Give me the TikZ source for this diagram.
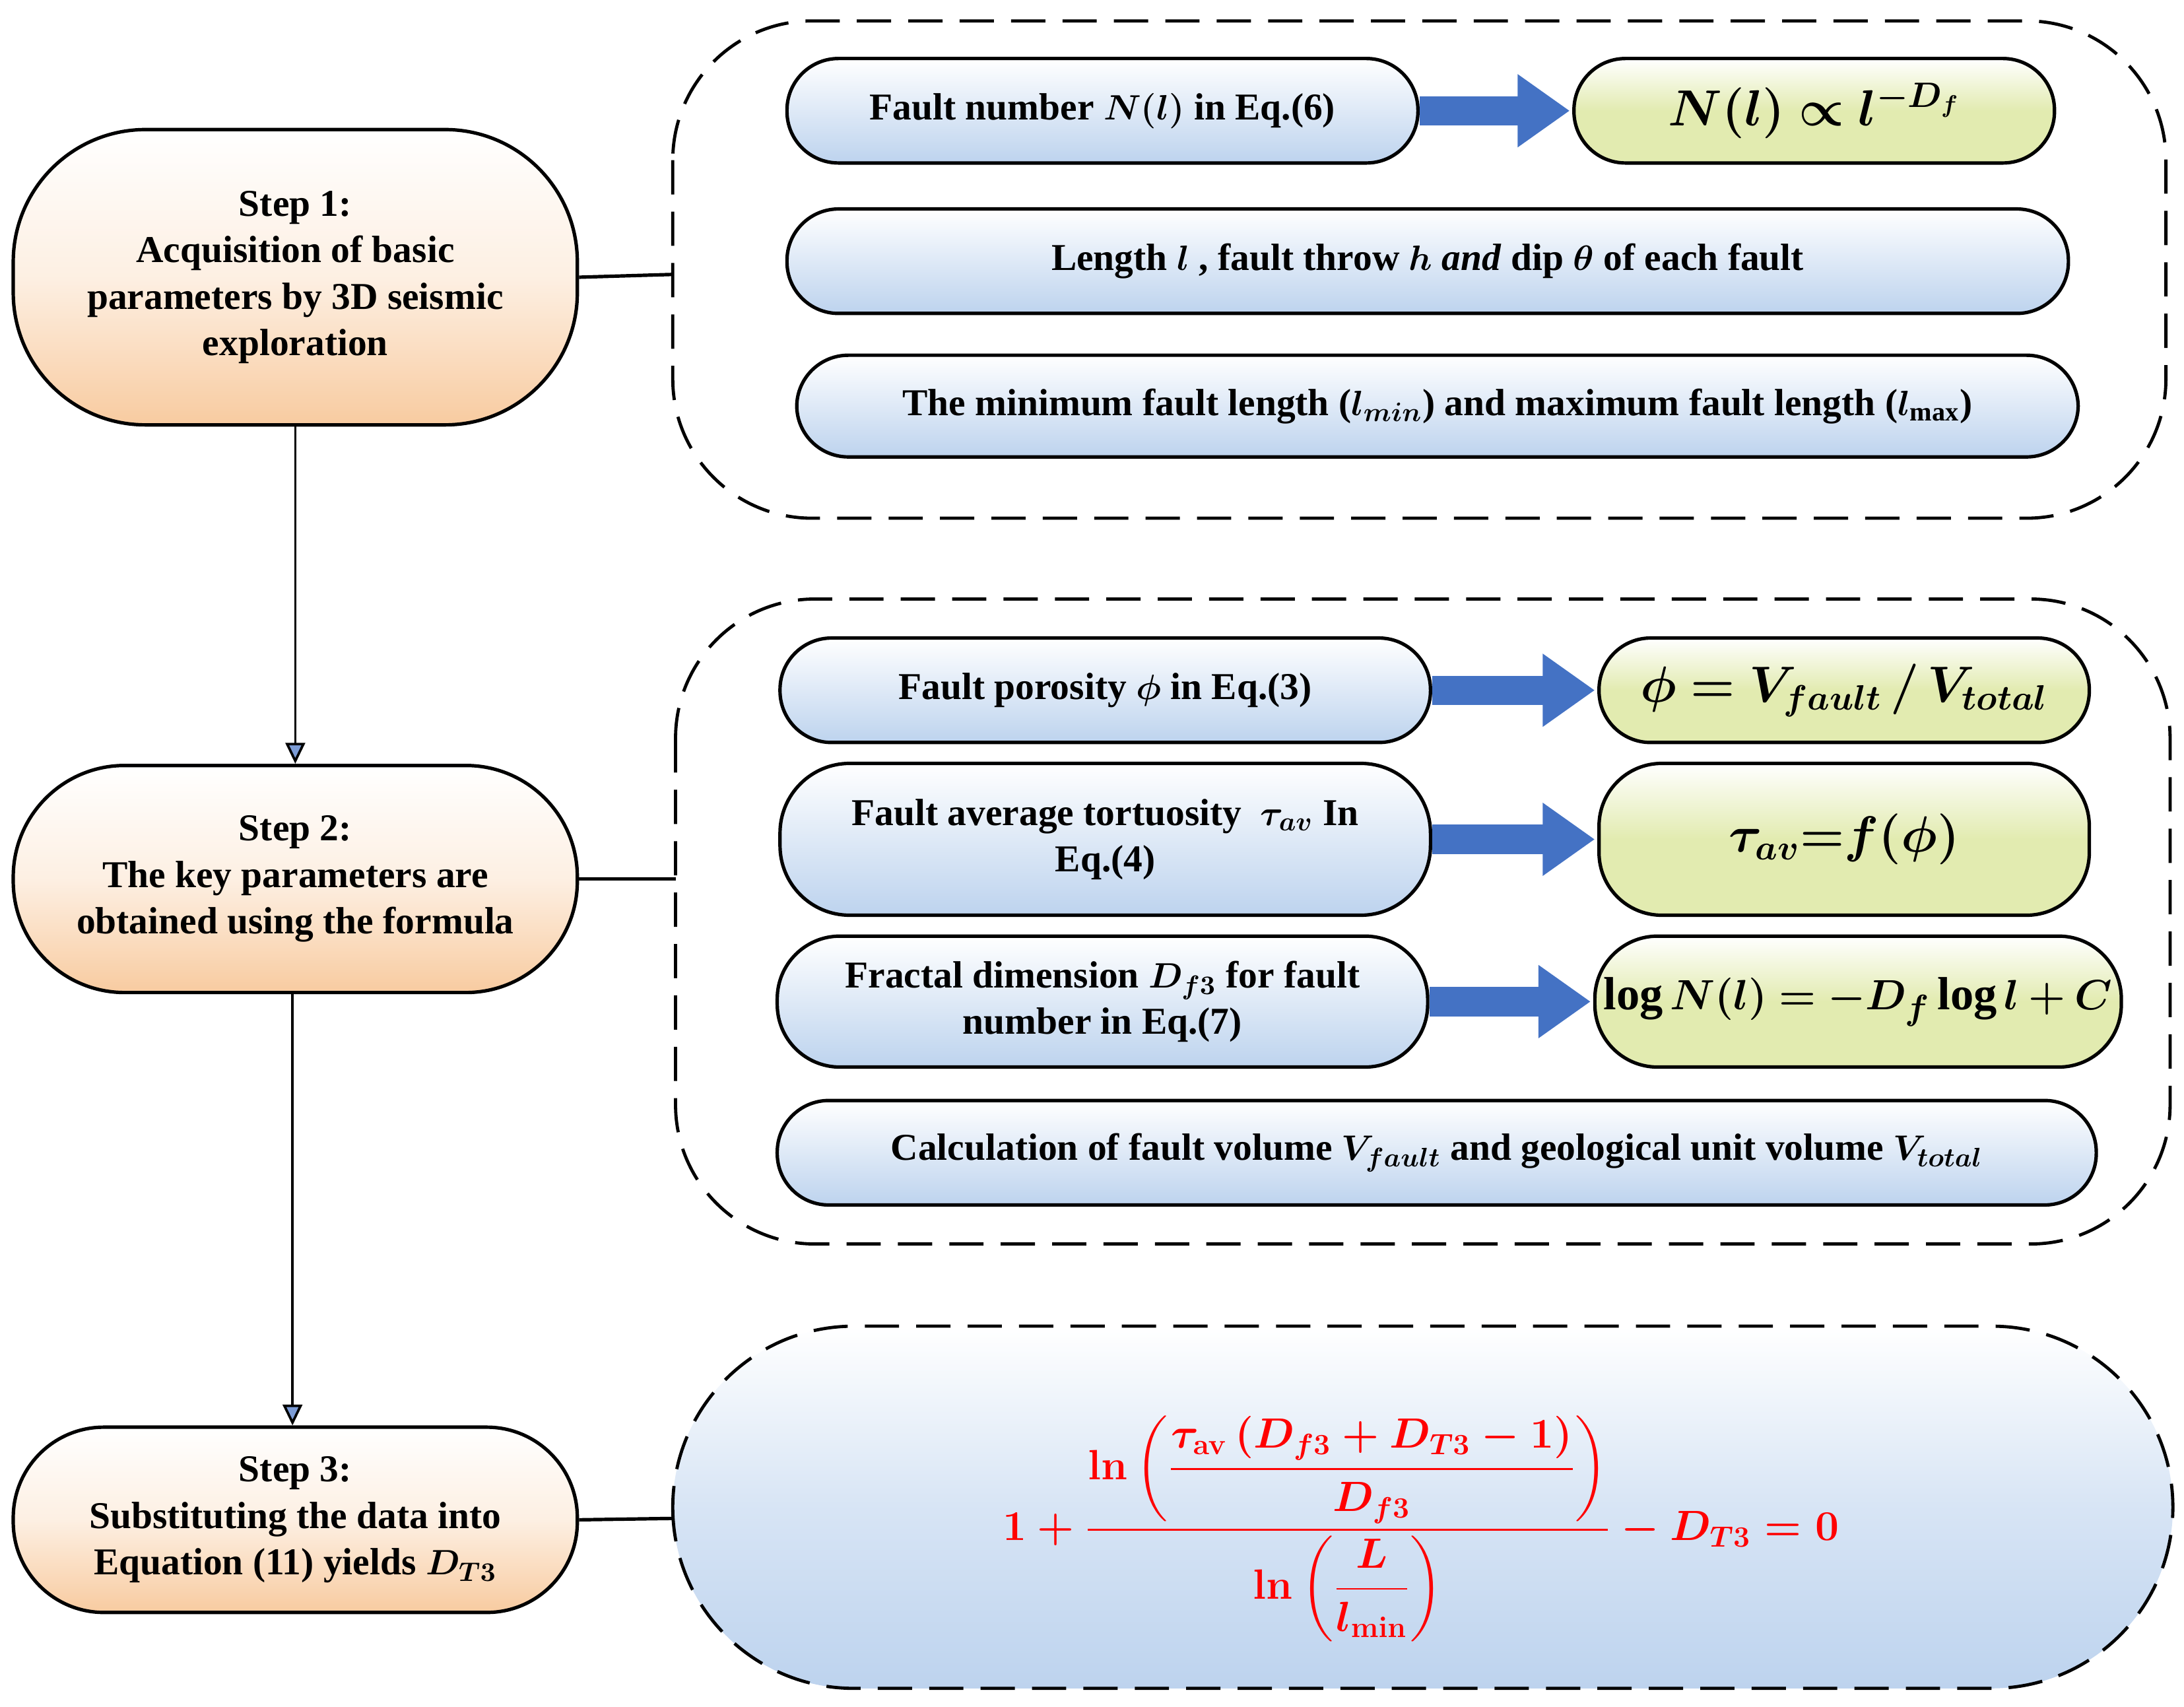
\documentclass[tikz,border=0pt]{standalone}
\usepackage{fontspec}
\setmainfont{Liberation Serif}
\usepackage{amsmath,amssymb,bm}
\usetikzlibrary{arrows.meta}
\definecolor{stepO}{HTML}{F8CBA0}
\definecolor{pillB}{HTML}{BDD3EE}
\definecolor{pillG}{HTML}{E2EBB0}
\definecolor{arrB}{HTML}{4472C4}
\newsavebox{\myformbox}
\begin{document}
\sbox{\myformbox}{\fontsize{18}{22}\selectfont\color{red}\boldmath$\displaystyle 1+\frac{\mathbf{ln}\left(\dfrac{\tau_{\mathbf{av}}\left(D_{f3}+D_{T3}-1\right)}{D_{f3}}\right)}{\mathbf{ln}\left(\dfrac{L}{l_{\mathbf{min}}}\right)}-D_{T3}=0$}%
\begin{tikzpicture}[
  every node/.style={font=\fontsize{15.5}{19}\selectfont\bfseries, align=center, inner sep=2pt},
  stepnode/.style={draw=black, line width=1.4pt, top color=white, bottom color=stepO, middle color=stepO!30, minimum width=8.1cm},
  pill/.style={draw=black, line width=1.4pt, top color=white, bottom color=pillB, rounded corners=0.74cm, minimum height=1.5cm},
  gpill/.style={draw=black, line width=1.4pt, top color=white, bottom color=pillG, middle color=pillG, rounded corners=0.74cm, minimum height=1.5cm},
  dbox/.style={draw=black, line width=1.3pt, dash pattern=on 14pt off 7pt},
  fat/.style={draw=arrB, line width=0.42cm, -{Triangle[length=0.75cm,width=1.0cm]}, shorten >=1pt},
  conn/.style={line width=1.4pt},
  down/.style={line width=1pt, -{Triangle[length=0.3cm,width=0.28cm,fill=arrB!70]}}
]
\useasboundingbox (0,0) rectangle (31.36,-24.5);
% step nodes
\node[stepnode, minimum height=4.24cm, rounded corners=1.9cm] (s1) at (4.24,-3.98) {Step 1:\\Acquisition of basic\\parameters by 3D seismic\\exploration};
\node[stepnode, minimum height=3.26cm, rounded corners=1.6cm] (s2) at (4.24,-12.62) {Step 2:\\The key parameters are\\obtained using the formula};
\node[stepnode, minimum height=2.66cm, rounded corners=1.3cm] (s3) at (4.24,-21.82) {Step 3:\\Substituting the data into\\Equation (11) yields $\bm{D_{T3}}$};
\draw[down] (s1.south) -- (s2.north);
\draw[down] ([xshift=-0.04cm]s2.south) -- ([xshift=-0.04cm]s3.north);
% dashed boxes
\draw[dbox, rounded corners=2cm] (9.66,-0.3) rectangle (31.1,-7.44);
\coordinate (b1) at (9.66,-3.94);
\draw[dbox, rounded corners=2cm] (9.7,-8.6) rectangle (31.16,-17.86);
\coordinate (b2) at (9.7,-12.62);
\draw[dbox, rounded corners=2.6cm, top color=white, bottom color=pillB, middle color=pillB!60] (9.66,-19.04) rectangle (31.2,-24.24);
\coordinate (b3) at (9.66,-21.8);
\draw[conn] (s1.east) -- (b1);
\draw[conn] (s2.east) -- (b2);
\draw[conn] (s3.east) -- (b3);
% box 1
\node[pill, minimum width=9.06cm] (n1) at (15.83,-1.59) {Fault number $\bm{N(l)}$ in Eq.(6)};
\node[gpill, minimum width=6.9cm] (g1) at (26.05,-1.59) {\fontsize{20}{22}\selectfont$\boldsymbol{N(l)\propto l^{-D_f}}$};
\draw[fat] (n1.east) -- (g1.west);
\node[pill, minimum width=18.4cm] (n2) at (20.5,-3.75) {Length $\bm{l}$ , fault throw $\bm{h}$ \textit{and} dip $\bm{\theta}$ of each fault};
\node[pill, minimum width=18.4cm, minimum height=1.46cm] (n3) at (20.64,-5.83) {The minimum fault length ($\bm{l_{min}}$) and maximum fault length ($\bm{l}_{\mathbf{max}}$)};
% box 2
\node[pill, minimum width=9.34cm] (n4) at (15.87,-9.91) {Fault porosity $\bm{\phi}$ in Eq.(3)};
\node[gpill, minimum width=7.04cm] (g4) at (26.48,-9.91) {\fontsize{20}{22}\selectfont$\boldsymbol{\phi = V_{fault}\,/\,V_{total}}$};
\draw[fat] (n4.east) -- (g4.west);
\node[pill, minimum width=9.34cm, minimum height=2.18cm, rounded corners=1cm] (n5) at (15.87,-12.05) {Fault average tortuosity\ \ $\bm{\tau_{av}}$ In\\Eq.(4)};
\node[gpill, minimum width=7.04cm, minimum height=2.18cm, rounded corners=0.9cm] (g5) at (26.48,-12.05) {\fontsize{20}{22}\selectfont$\boldsymbol{\tau_{av}{=}f(\phi)}$};
\draw[fat] (n5.east) -- (g5.west);
\node[pill, minimum width=9.34cm, minimum height=1.88cm, rounded corners=0.9cm] (n6) at (15.83,-14.38) {Fractal dimension $\bm{D_{f3}}$ for fault\\number in Eq.(7)};
\node[gpill, minimum width=7.56cm, minimum height=1.88cm, rounded corners=0.9cm] (g6) at (26.68,-14.38) {\fontsize{19}{22}\selectfont$\mathbf{log}\,\boldsymbol{N(l)=-D_f}\,\mathbf{log}\,\boldsymbol{l+C}$};
\draw[fat] (n6.east) -- (g6.west);
\node[pill, minimum width=18.94cm] (n7) at (20.63,-16.55) {Calculation of fault volume $\bm{V_{fault}}$ and geological unit volume $\bm{V_{total}}$};
% formula
\node (fm) at (20.4,-21.95) {\usebox{\myformbox}};
\end{tikzpicture}
\end{document}
